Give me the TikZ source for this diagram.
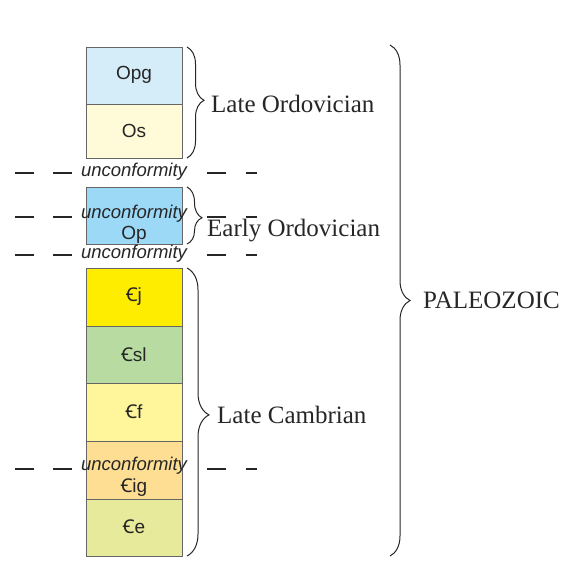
\documentclass[tikz,border=0pt]{standalone}
\usepackage{fontspec}
\setmainfont{Liberation Serif}
\setsansfont{Liberation Sans}
\newfontfamily\cbarfont{Noto Sans}
\usetikzlibrary{decorations.pathreplacing}
\newcommand{\Cb}{{\cbarfont Ꞓ}}
\definecolor{cOpg}{HTML}{D5ECF9}
\definecolor{cOs}{HTML}{FFFBD9}
\definecolor{cOp}{HTML}{9CD9F6}
\definecolor{cCj}{HTML}{FFED00}
\definecolor{cCsl}{HTML}{B7DBA1}
\definecolor{cCf}{HTML}{FFF59B}
\definecolor{cCig}{HTML}{FEDE92}
\definecolor{cCe}{HTML}{E7E99B}
\tikzset{
  layer/.style={draw=black!60, line width=0.8pt, minimum width=96pt, inner sep=0pt, anchor=north west},
  lbl/.style={inner sep=0pt, font=\sffamily\fontsize{19}{22}\selectfont, text=black!85},
  unc/.style={inner sep=0pt, font=\sffamily\itshape\fontsize{18.5}{22}\selectfont, text=black!85},
  era/.style={inner sep=0pt, anchor=west, font=\fontsize{25}{28}\selectfont, text=black!85},
  dsh/.style={line width=2.4pt, black!85},
  brc/.style={decorate, line width=1pt, black!85},
}
\begin{document}
\begin{tikzpicture}[x=1pt,y=-1pt]
\useasboundingbox (0,0) rectangle (563,576);
% layers
\node[layer, fill=cOpg, minimum height=57pt] (opg) at (86,47) {};
\node[layer, fill=cOs, minimum height=54pt] (os) at (86,104) {};
\node[layer, fill=cOp, minimum height=57pt] (op) at (86,187) {};
\node[layer, fill=cCj, minimum height=58pt] (cj) at (86,268) {};
\node[layer, fill=cCsl, minimum height=57pt] (csl) at (86,326) {};
\node[layer, fill=cCf, minimum height=58pt] (cf) at (86,383) {};
\node[layer, fill=cCig, minimum height=58pt] (cig) at (86,441) {};
\node[layer, fill=cCe, minimum height=57pt] (ce) at (86,499) {};
% layer labels
\node[lbl] (topg) at (134,75) {Opg};
\node[lbl] (tos) at (134,131) {Os};
\node[lbl] (top) at (134,235) {Op};
\node[lbl] (tcj) at (134,297) {\Cb j};
\node[lbl] (tcsl) at (134,355) {\Cb sl};
\node[lbl] (tcf) at (134,412) {\Cb f};
\node[lbl] (tcig) at (134,488) {\Cb ig};
\node[lbl] (tce) at (134,527) {\Cb e};
% unconformities
\foreach \y/\n/\d in {172/u1/1,214/u2/3,254/u3/1,466/u4/3}{
  \node[unc] (\n) at (134,\y) {unconformity};
  \draw[dsh] (15,\y+\d) -- (34,\y+\d);
  \draw[dsh] (53,\y+\d) -- (72,\y+\d);
  \draw[dsh] (207,\y+\d) -- (226,\y+\d);
  \draw[dsh] (246,\y+\d) -- (257,\y+\d);
}
% braces
\draw[brc, decoration={brace, amplitude=17pt, aspect=0.48}] (187,47) -- (187,158);
\draw[brc, decoration={brace, amplitude=15pt, aspect=0.54}] (187,187) -- (187,244);
\draw[brc, decoration={brace, amplitude=22pt, aspect=0.51}] (187,268) -- (187,556);
\draw[brc, decoration={brace, amplitude=20pt, aspect=0.5}] (390,45) -- (390,556);
% era labels
\node[era] (lo) at (211,104) {Late Ordovician};
\node[era] (eo) at (207,231) {Early Ordovician};
\node[era] (lc) at (217,415) {Late Cambrian};
\node[era] (pz) at (423,300) {PALEOZOIC};
\end{tikzpicture}
\end{document}
